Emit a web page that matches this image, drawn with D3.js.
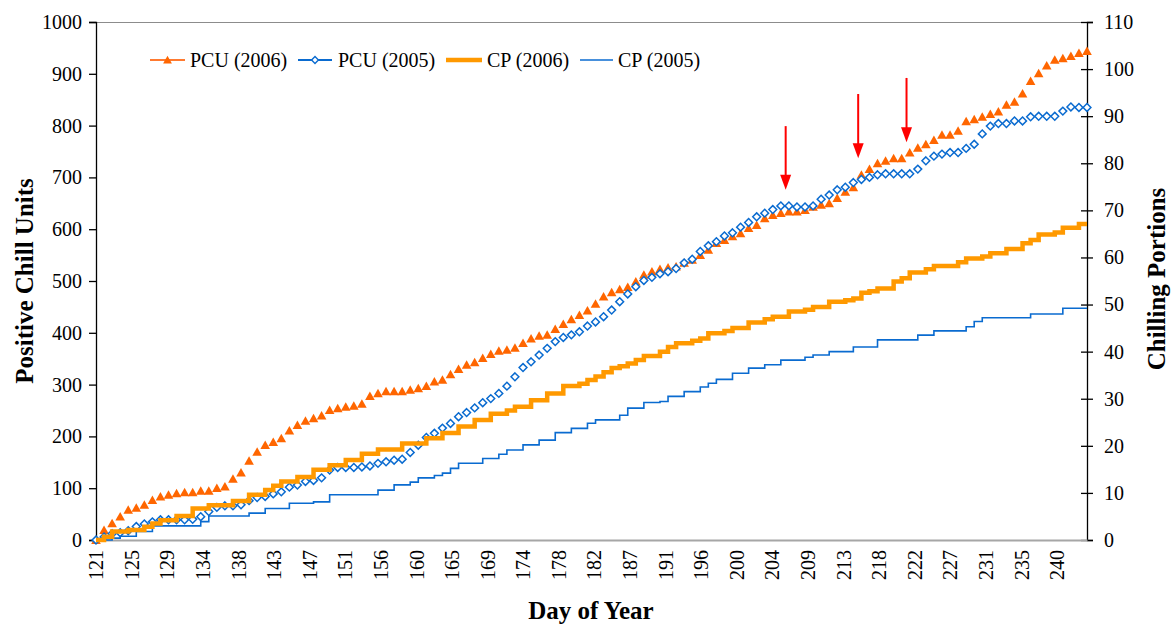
<!DOCTYPE html>
<html>
<head>
<meta charset="utf-8">
<script src="https://cdn.jsdelivr.net/npm/d3@7"></script>
<style>
  body { margin: 0; background: #fff; }
  svg { display: block; }
  svg text { font-family: "Liberation Serif", "Times New Roman", Times, "DejaVu Serif", serif; fill: #000; }
</style>
</head>
<body>
<svg id="chart" width="1172" height="628"></svg>
<script>
// ---- data -----------------------------------------------------------------
// One value per day of year, starting on day 121.
const firstDay = 121;

// Category labels are printed every 106 hours, named by the (whole) day of year.
const labelStepHours = 106;
const xTickLabels = ["121","125","129","134","138","143","147","151","156","160",
  "165","169","174","178","182","187","191","196","200","204","209","213","218",
  "222","227","231","235","240"];

const leftTicks = [0,100,200,300,400,500,600,700,800,900,1000];
const rightTicks = [0,10,20,30,40,50,60,70,80,90,100,110];

// Positive Chill Units, season 2006 (left axis)
const pcu2006 = [0,19,32,45,58,62,68,77,84,87,90,92,92,95,95,100,103,118,130,153,
  170,183,189,196,211,222,230,235,240,251,254,257,259,263,278,283,287,287,287,290,
  293,297,306,309,320,330,338,343,351,359,365,367,371,380,389,394,396,407,417,426,
  434,443,456,470,478,484,488,499,512,518,523,526,528,535,541,550,560,573,579,586,
  592,602,608,621,627,631,634,634,637,643,647,650,660,672,681,705,716,727,732,737,
  737,748,757,764,772,782,782,790,808,812,817,822,827,840,846,862,886,901,916,927,
  930,934,940,944];

// Positive Chill Units, season 2005 (left axis)
const pcu2005 = [0,6,12,14,18,26,31,35,39,39,39,39,40,45,55,63,66,66,68,76,
  82,84,89,93,102,106,113,115,120,135,140,140,140,141,143,148,151,154,156,169,
  183,198,206,216,225,238,246,255,265,273,283,297,315,333,344,357,370,383,391,396,
  402,413,421,431,444,460,475,489,501,507,514,518,524,535,542,557,568,576,587,593,
  604,613,624,631,638,645,645,643,643,645,658,666,676,681,690,696,700,705,707,707,
  707,707,716,732,741,745,748,748,756,764,784,799,804,804,809,809,817,818,818,818,
  828,836,835,835];

// Chilling Portions, season 2006 (right axis)
const cp2006 = [0,0.7,1.8,1.8,2.1,2.1,2.8,3.5,4.2,4.2,5.1,5.1,6.7,6.7,7.4,7.4,7.4,8.3,8.3,9.6,
  9.6,10.6,11.5,12.4,12.4,13.4,13.4,14.9,14.9,15.9,15.9,17.0,17.0,18.3,18.3,19.2,19.2,19.2,20.5,20.5,
  20.5,21.6,21.6,22.7,22.7,24.1,24.1,25.5,25.5,26.8,26.8,27.5,28.3,28.3,29.7,29.7,31.1,31.1,32.7,32.7,
  33.2,34.0,34.7,35.6,36.5,36.9,37.5,38.2,39.1,39.1,40.0,41.0,41.8,41.8,42.3,42.8,43.9,43.9,44.4,45.0,
  45.0,46.2,46.2,46.9,47.4,47.4,48.5,48.5,48.9,49.5,49.5,50.6,50.6,50.9,51.3,52.5,52.8,53.4,53.4,54.9,
  55.6,56.8,56.8,57.5,58.2,58.2,58.2,59.0,59.8,59.8,60.2,60.9,60.9,61.8,61.8,63.0,63.7,64.9,64.9,65.3,
  66.3,66.3,67.1,67.1];

// Chilling Portions, season 2005 (right axis)
const cp2005 = [0,0,0.4,0.8,0.8,1.8,1.8,3.0,3.0,3.0,3.0,3.0,3.0,3.9,5.1,5.1,5.1,5.1,5.1,5.7,
  5.7,6.7,6.7,6.7,7.8,7.8,7.8,8.1,8.1,9.6,9.6,9.6,9.6,9.6,9.6,10.6,10.6,11.7,11.7,12.3,
  13.2,13.2,13.7,14.2,15.2,16.3,16.3,16.3,17.3,17.3,18.2,19.1,19.1,20.2,20.2,21.2,21.2,22.8,22.8,23.7,
  23.7,24.8,25.5,25.5,25.5,26.5,28.0,28.0,29.2,29.2,29.4,30.5,30.5,31.5,31.5,32.5,33.3,34.1,34.1,35.4,
  35.4,36.5,36.5,37.2,37.2,38.2,38.2,38.2,38.8,39.3,39.3,40.0,40.0,40.0,41.0,41.0,41.0,42.5,42.5,42.5,
  42.5,42.5,43.5,43.5,44.4,44.4,44.4,44.4,45.3,46.4,47.2,47.2,47.2,47.2,47.2,47.2,48.0,48.0,48.0,48.0,
  49.2,49.2,49.2,49.2];

const seriesNames = ["PCU (2006)", "PCU (2005)", "CP (2006)", "CP (2005)"];

// Red arrows marking three dates, drawn in PCU units
const arrowDays = [206.6, 215.6, 221.6];
const arrowFrom = [799, 861, 892];
const arrowTo = [676, 737, 768];

// ---- layout ---------------------------------------------------------------
const serif = '"Liberation Serif", "Times New Roman", Times, "DejaVu Serif", serif';
const svg = d3.select("#chart").attr("font-family", serif);
const plot = { left: 96, right: 1087, top: 22, bottom: 540 };

const lastDay = firstDay + pcu2006.length - 1;
const x = d3.scaleLinear().domain([firstDay, lastDay]).range([plot.left, plot.right]);
const yL = d3.scaleLinear().domain([0, 1000]).range([plot.bottom, plot.top]);
const yR = d3.scaleLinear().domain([0, 110]).range([plot.bottom, plot.top]);

const dayOf = i => firstDay + i;

const colors = {
  pcu06: "#FF6600", pcu06Legend: "#FF7A30",
  pcu05: "#0A6BD0",
  cp06: "#FF9900",
  cp05: "#0A6BD0"
};

// plot frame: grey top line
svg.append("line")
  .attr("x1", plot.left).attr("x2", plot.right)
  .attr("y1", plot.top + 0.5).attr("y2", plot.top + 0.5)
  .attr("stroke", "#8c8c8c").attr("stroke-width", 1);

// ---- axes -----------------------------------------------------------------
const fontTick = 20;
const fontTitle = 25;

// left axis
const gL = svg.append("g").attr("transform", `translate(${plot.left},0)`)
  .call(d3.axisLeft(yL).tickValues(leftTicks).tickSize(7).tickPadding(7).tickFormat(d3.format("d")));
gL.attr("font-family", serif);
gL.select(".domain").attr("stroke", "#000").attr("stroke-width", 1.3);
gL.selectAll(".tick line").attr("stroke", "#000").attr("stroke-width", 1.3);
gL.selectAll("text").attr("font-size", fontTick).style("font-family", serif).attr("fill", "#000");

// right axis: ticks cross the axis line
const gR = svg.append("g").attr("transform", `translate(${plot.right},0)`)
  .call(d3.axisRight(yR).tickValues(rightTicks).tickSize(6).tickPadding(11).tickFormat(d3.format("d")));
gR.attr("font-family", serif);
gR.select(".domain").attr("stroke", "#000").attr("stroke-width", 1.3);
gR.selectAll(".tick line").attr("x1", -6).attr("stroke", "#000").attr("stroke-width", 1.3);
gR.selectAll("text").attr("font-size", fontTick).style("font-family", serif).attr("fill", "#000");

// bottom axis: category labels, rotated
const tickDays = xTickLabels.map((_, k) => firstDay + k * labelStepHours / 24);
const gB = svg.append("g").attr("transform", `translate(0,${plot.bottom})`)
  .call(d3.axisBottom(x).tickValues(tickDays).tickSize(0).tickFormat((d, k) => xTickLabels[k]));
gB.attr("font-family", serif);
gB.select(".domain").attr("stroke", "#a6a6a6").attr("stroke-width", 2.2);
gB.selectAll(".tick text")
  .attr("font-size", fontTick).style("font-family", serif).attr("fill", "#000")
  .attr("transform", "rotate(-90)")
  .attr("text-anchor", "end")
  .attr("x", -10).attr("y", 0).attr("dy", "0.34em");

// axis titles
svg.append("text")
  .attr("transform", "translate(33,281) rotate(-90)")
  .attr("text-anchor", "middle").attr("font-weight", "bold").attr("font-size", fontTitle)
  .style("font-family", serif)
  .text("Positive Chill Units");
svg.append("text")
  .attr("transform", "translate(1165,279) rotate(-90)")
  .attr("text-anchor", "middle").attr("font-weight", "bold").attr("font-size", fontTitle)
  .style("font-family", serif)
  .text("Chilling Portions");
svg.append("text")
  .attr("x", 591).attr("y", 619)
  .attr("text-anchor", "middle").attr("font-weight", "bold").attr("font-size", fontTitle)
  .style("font-family", serif)
  .text("Day of Year");

// ---- series ---------------------------------------------------------------
const trianglePath = "M0,-4.6L4.8,3.9L-4.8,3.9Z";
const diamondPath = "M0,-3.9L3.9,0L0,3.9L-3.9,0Z";

// PCU 2006: filled triangles
svg.append("g").selectAll("path").data(pcu2006).join("path")
  .attr("d", trianglePath)
  .attr("transform", (d, i) => `translate(${x(dayOf(i))},${yL(d)})`)
  .attr("fill", colors.pcu06);

// PCU 2005: open diamonds
svg.append("g").selectAll("path").data(pcu2005).join("path")
  .attr("d", diamondPath)
  .attr("transform", (d, i) => `translate(${x(dayOf(i))},${yL(d)})`)
  .attr("fill", "#fff").attr("stroke", colors.pcu05).attr("stroke-width", 1.5);

// Chilling Portions: cumulative step lines on the right axis
const stepLine = d3.line()
  .x((d, i) => x(dayOf(i)))
  .y(d => yR(d))
  .curve(d3.curveStepAfter);

svg.append("path").datum(cp2005)
  .attr("d", stepLine)
  .attr("fill", "none").attr("stroke", colors.cp05).attr("stroke-width", 1.6);

svg.append("path").datum(cp2006)
  .attr("d", stepLine)
  .attr("fill", "none").attr("stroke", colors.cp06).attr("stroke-width", 4.5)
  .attr("stroke-linejoin", "miter");

// ---- arrows ---------------------------------------------------------------
const arrows = svg.append("g");
arrowDays.forEach((day, k) => {
  const ax = x(day), y0 = yL(arrowFrom[k]), y1 = yL(arrowTo[k]);
  arrows.append("line")
    .attr("x1", ax).attr("x2", ax).attr("y1", y0).attr("y2", y1 - 12)
    .attr("stroke", "#ff0000").attr("stroke-width", 2);
  arrows.append("path")
    .attr("d", `M${ax - 5.5},${y1 - 15}L${ax + 5.5},${y1 - 15}L${ax},${y1}Z`)
    .attr("fill", "#ff0000");
});

// ---- legend ---------------------------------------------------------------
const legend = svg.append("g").attr("transform", "translate(0,60)");
const legendItems = [
  { x: 150, w: 35, text: 190, color: colors.pcu06Legend, width: 1.8, marker: "tri" },
  { x: 298, w: 34, text: 338, color: colors.pcu05, width: 1.8, marker: "dia" },
  { x: 446, w: 36, text: 487, color: colors.cp06, width: 4.5, marker: null },
  { x: 580, w: 33, text: 618, color: colors.cp05, width: 1.6, marker: null }
];
legendItems.forEach((it, k) => {
  legend.append("line")
    .attr("x1", it.x).attr("x2", it.x + it.w).attr("y1", 0).attr("y2", 0)
    .attr("stroke", it.color).attr("stroke-width", it.width);
  const cx = it.x + it.w / 2;
  if (it.marker === "tri") {
    legend.append("path").attr("d", "M0,-4.2L4.4,3.6L-4.4,3.6Z")
      .attr("transform", `translate(${cx},0)`).attr("fill", colors.pcu06);
  } else if (it.marker === "dia") {
    legend.append("path").attr("d", "M0,-3.4L3.4,0L0,3.4L-3.4,0Z")
      .attr("transform", `translate(${cx},0)`)
      .attr("fill", "#fff").attr("stroke", colors.pcu05).attr("stroke-width", 1.4);
  }
  legend.append("text")
    .attr("x", it.text).attr("y", 0).attr("dy", "0.34em")
    .attr("font-size", 20)
    .style("font-family", serif)
    .text(seriesNames[k]);
});
</script>
</body>
</html>
